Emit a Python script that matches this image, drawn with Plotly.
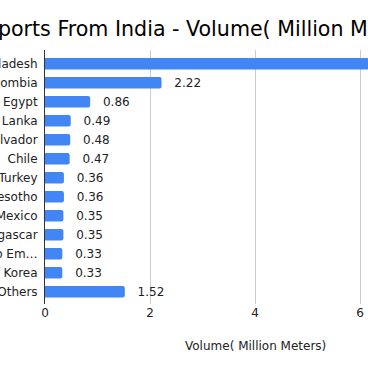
import plotly.graph_objects as go

countries = ["Bangladesh", "Colombia", "Egypt", "Sri Lanka", "El Salvador", "Chile",
             "Turkey", "Lesotho", "Mexico", "Madagascar", "United Arab Em\u2026",
             "Rep. of Korea", "Others"]
volumes = [6.90, 2.22, 0.86, 0.49, 0.48, 0.47, 0.36, 0.36, 0.35, 0.35, 0.33, 0.33, 1.52]
x_ticks = [0, 2, 4, 6, 8]

title_text = "Fabric Exports From India - Volume( Million Meters)"
x_title = "Volume( Million Meters)"

FONT = "DejaVu Sans"
W, H = 368, 371
L, R, T, B = 45, 0, 50, 67
pw = W - L - R
ph = H - T - B
px_per_unit = 52.5
row_px = 19.0
first_row_offset = 0.726  # rows from top to center of first bar

fig = go.Figure(go.Bar(
    x=volumes,
    y=countries,
    orientation="h",
    marker=dict(color="#4285F4", line=dict(width=0)),
    texttemplate="\u2002\u00a0%{x:.2f}",
    textposition="outside",
    constraintext="none",
    textfont=dict(family=FONT, size=12, color="#222222"),
    cliponaxis=True,
    hoverinfo="skip",
))

rows_visible = ph / row_px
fig.update_layout(
    width=W, height=H,
    margin=dict(l=L, r=R, t=T, b=B, pad=0, autoexpand=False),
    paper_bgcolor="white", plot_bgcolor="white",
    showlegend=False,
    bargap=0.4,
    barcornerradius=2,
    font=dict(family=FONT, size=12, color="#222222"),
    xaxis=dict(
        range=[0, pw / px_per_unit],
        tickvals=x_ticks,
        ticktext=[str(v) for v in x_ticks],
        showgrid=True, gridcolor="#cccccc", gridwidth=1,
        zeroline=False, showline=False,
        ticks="", tickfont=dict(family=FONT, size=12, color="#222222"),
        automargin=False,
    ),
    yaxis=dict(
        type="category",
        categoryorder="array", categoryarray=countries,
        range=[-first_row_offset + rows_visible, -first_row_offset],
        showgrid=False, zeroline=False,
        showline=True, linecolor="#333333", linewidth=1,
        ticks="", ticklabelstandoff=4,
        tickfont=dict(family=FONT, size=12, color="#222222"),
        automargin=False,
    ),
    annotations=[
        dict(text=title_text, xref="paper", yref="paper",
             x=(-97 - L) / pw, y=(ph - (29 - T)) / ph,
             xanchor="left", yanchor="middle", showarrow=False,
             font=dict(family=FONT, size=20.6, color="#000000")),
        dict(text=x_title, xref="paper", yref="paper",
             x=(255 - L) / pw, y=-(346 - (T + ph)) / ph,
             xanchor="center", yanchor="middle", showarrow=False,
             font=dict(family=FONT, size=12, color="#222222")),
    ],
)

fig.write_html("out.html", config={"displayModeBar": False},
               post_script="document.body.style.margin='0px';")
